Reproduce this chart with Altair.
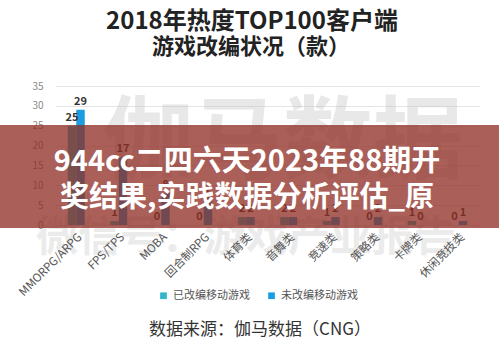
import altair as alt
import pandas as pd

categories = ["MMORPG/ARPG", "FPS/TPS", "MOBA", "回合制RPG", "体育类",
              "音舞类", "竞速类", "策略类", "卡牌类", "休闲竞技类"]
adapted = [25, 1, 0, 0, 2, 2, 1, 0, 1, 0]
unadapted = [29, 17, 8, 7, 2, 2, 2, 2, 0, 1]
series = ["已改编移动游戏", "未改编移动游戏"]
colors = ["#33b6c8", "#1c9de0"]
y_ticks = [0, 5, 10, 15, 20, 25, 30, 35]
title_lines = ["2018年热度TOP100客户端", "游戏改编状况（款）"]
banner_lines = ["944cc二四六天2023年88期开", "奖结果,实践数据分析评估_原"]
source_text = ["数据来源：伽马数据（CNG）"]
watermarks = ["伽马数据", "微信号：游戏产业报告"]

rows = []
for c, a, u in zip(categories, adapted, unadapted):
    rows.append({"cat": c, "series": series[0], "value": a})
    rows.append({"cat": c, "series": series[1], "value": u})
df = pd.DataFrame(rows)

W, H = 425, 139
FONT = "Noto Sans CJK SC"

x_enc = alt.X("cat:N", sort=categories, title=None,
              scale=alt.Scale(paddingInner=0.6, paddingOuter=0.3),
              axis=alt.Axis(labelAngle=315, labelFontSize=11.5, labelColor="#555",
                            ticks=False, domain=False, labelPadding=6,
                            labelFont=FONT, zindex=1))
xoff = alt.XOffset("series:N", sort=series, scale=alt.Scale(paddingInner=0))
y_enc = alt.Y("value:Q", title=None,
              scale=alt.Scale(domain=[0, 35], nice=False),
              axis=alt.Axis(values=y_ticks, labelColor="#888", labelFontSize=10,
                            ticks=False, domain=False, gridColor="#e4e4e4",
                            labelPadding=12, labelFont=FONT))


def text_layer(text, x, y, size, color, weight="normal", opacity=1.0):
    d = pd.DataFrame({"t": [text]})
    return alt.Chart(d).mark_text(
        font=FONT, fontSize=size, color=color, fontWeight=weight,
        align="center", baseline="middle", opacity=opacity
    ).encode(text="t:N", x=alt.value(x), y=alt.value(y))


wm1 = text_layer(watermarks[0], 228, 58, 90, "#c4c4c4", "bold", 0.38)
wm2 = text_layer(watermarks[1], 191, 152, 42, "#c4c4c4", "bold", 0.32)

bars = alt.Chart(df).mark_bar().encode(
    x=x_enc, xOffset=xoff, y=y_enc,
    color=alt.Color("series:N", sort=series,
                    scale=alt.Scale(domain=series, range=colors),
                    legend=alt.Legend(orient="none", legendX=103, legendY=204,
                                      direction="horizontal", title=None,
                                      symbolType="square", symbolSize=45,
                                      labelFontSize=11, labelColor="#555",
                                      labelFont=FONT, columnPadding=16,
                                      symbolStrokeWidth=0))
)

labels = alt.Chart(df).mark_text(
    dy=-8, fontWeight="bold", fontSize=11, color="#333", font=FONT
).encode(x=x_enc, xOffset=xoff, y=y_enc, text="value:Q")

banner = alt.Chart(pd.DataFrame({"b": [1]})).mark_rect(
    color="#8f2e24", opacity=0.76
).encode(x=alt.value(-55), x2=alt.value(444), y=alt.value(39), y2=alt.value(142))

b1 = text_layer(banner_lines[0], 192, 76, 29, "white", "bold")
b2 = text_layer(banner_lines[1], 192, 112, 29, "white", "bold")

t1 = text_layer(title_lines[0], 197, -64, 24, "#222", "bold")
t2 = text_layer(title_lines[1], 196, -39, 22, "#222", "bold")

src = text_layer(source_text[0], 205, 244, 17, "#333")

chart = alt.layer(
    wm1, wm2, bars, labels, banner, b1, b2, t1, t2, src
).properties(
    width=W, height=H,
    padding={"left": 55, "top": 86, "right": 19, "bottom": 131},
    autosize="none",
    background="white",
).configure_view(stroke=None)

chart.save("out.html", embed_options={"renderer": "svg", "actions": False})
